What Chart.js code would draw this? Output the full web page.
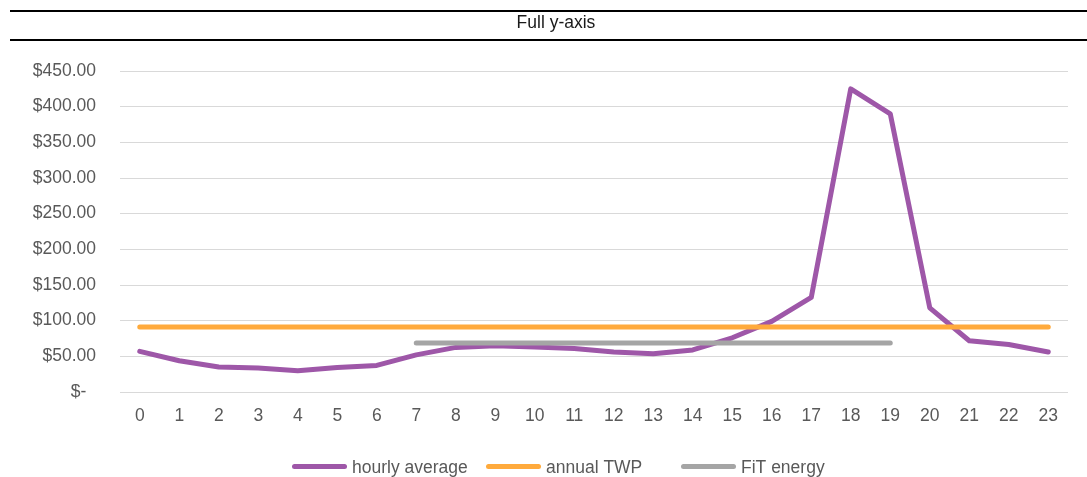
<!DOCTYPE html>
<html>
<head>
<meta charset="utf-8">
<script src="https://cdn.jsdelivr.net/npm/chart.js@4/dist/chart.umd.min.js"></script>
<style>
  html, body { margin: 0; padding: 0; background: #fff; }
  #wrap { position: relative; width: 1087px; height: 477px; overflow: hidden; }
  #c { position: absolute; left: 0; top: 0; }
  #head {
    position: absolute; left: 10px; right: 0; top: 10px; height: 27px;
    padding-left: 15px;
    border-top: 2px solid #000; border-bottom: 2px solid #000;
    text-align: center; line-height: 27px;
    font: 17.5px "Liberation Sans", Arial, sans-serif; color: #1a1a1a;
  }
</style>
</head>
<body>
<div id="wrap">
  <canvas id="c" width="1087" height="477"></canvas>
  <div id="head">Full y-axis</div>
</div>
<script>
// Hours of the day (x categories)
const hours = ['0','1','2','3','4','5','6','7','8','9','10','11',
               '12','13','14','15','16','17','18','19','20','21','22','23'];

// Hourly average price ($/MWh)
const hourlyAverage = [57, 43.8, 35, 33.6, 29.8, 34.5, 37.3, 52, 62.5, 65, 63, 61,
                       56, 53.6, 59, 76, 99, 132.5, 425, 390, 118, 71.8, 66.5, 56];

// Annual time-weighted price, flat across the day
const annualTWP = [91, 91, 91, 91, 91, 91, 91, 91, 91, 91, 91, 91,
                   91, 91, 91, 91, 91, 91, 91, 91, 91, 91, 91, 91];

// Feed-in tariff energy rate, applies 7:00 to 19:00
const fitEnergy = [null, null, null, null, null, null, null, 68.6, 68.6, 68.6, 68.6, 68.6,
                   68.6, 68.6, 68.6, 68.6, 68.6, 68.6, 68.6, 68.6, null, null, null, null];

// Y-axis tick labels (accounting format)
const yTickLabels = ['$-', '$50.00', '$100.00', '$150.00', '$200.00',
                     '$250.00', '$300.00', '$350.00', '$400.00', '$450.00'];

const FONT = '"Liberation Sans", Arial, sans-serif';
const TEXT = '#595959';

// Legend drawn as short line samples followed by the series label
const lineLegend = {
  id: 'lineLegend',
  afterDraw(chart, args, opts) {
    const ctx = chart.ctx;
    ctx.save();
    ctx.font = opts.fontSize + 'px ' + FONT;
    ctx.textAlign = 'left';
    ctx.textBaseline = 'alphabetic';
    chart.data.datasets.forEach((ds, i) => {
      const x0 = opts.starts[i];
      const w = ds.borderWidth;
      ctx.strokeStyle = ds.borderColor;
      ctx.lineWidth = w;
      ctx.lineCap = 'round';
      ctx.beginPath();
      ctx.moveTo(x0 + w / 2, opts.lineY);
      ctx.lineTo(x0 + opts.lineLen - w / 2, opts.lineY);
      ctx.stroke();
      ctx.fillStyle = opts.color;
      ctx.fillText(ds.label, x0 + opts.lineLen + opts.gap, opts.baseline);
    });
    ctx.restore();
  }
};

new Chart(document.getElementById('c'), {
  type: 'line',
  data: {
    labels: hours,
    datasets: [
      { label: 'hourly average', data: hourlyAverage, borderColor: '#9E57A8',
        backgroundColor: '#9E57A8', borderWidth: 5, pointRadius: 0,
        borderJoinStyle: 'round', borderCapStyle: 'round', order: 1 },
      { label: 'annual TWP', data: annualTWP, borderColor: '#FFAA3C',
        backgroundColor: '#FFAA3C', borderWidth: 5, pointRadius: 0,
        borderCapStyle: 'round', order: 0 },
      { label: 'FiT energy', data: fitEnergy, borderColor: '#A5A5A5',
        backgroundColor: '#A5A5A5', borderWidth: 5, pointRadius: 0,
        borderCapStyle: 'round', spanGaps: false, order: 0 }
    ]
  },
  options: {
    responsive: false,
    animation: false,
    layout: { padding: { left: 0, right: 19, top: 71, bottom: 45 } },
    plugins: {
      legend: { display: false },
      title: { display: false },
      tooltip: { enabled: false },
      lineLegend: {
        starts: [292, 486, 681], lineLen: 55, gap: 5,
        lineY: 466.5, baseline: 473, fontSize: 17.5, color: TEXT
      }
    },
    scales: {
      x: {
        offset: true,
        grid: { display: false, drawTicks: false },
        border: { display: false },
        ticks: { color: TEXT, font: { family: FONT, size: 17.5 }, padding: 14,
                 maxRotation: 0, autoSkip: false },
        afterFit(scale) { scale.height = 40; }
      },
      y: {
        min: 0, max: 450,
        grid: { color: '#D9D9D9', lineWidth: 1, drawTicks: false },
        border: { display: false },
        ticks: {
          stepSize: 50, color: TEXT, font: { family: FONT, size: 17.5 }, padding: 24,
          callback(value, index) {
            const t = yTickLabels[index];
            return t === '$-' ? t + '  ' : t;
          }
        },
        afterFit(scale) { scale.width = 120; }
      }
    }
  },
  plugins: [lineLegend]
});
</script>
</body>
</html>
